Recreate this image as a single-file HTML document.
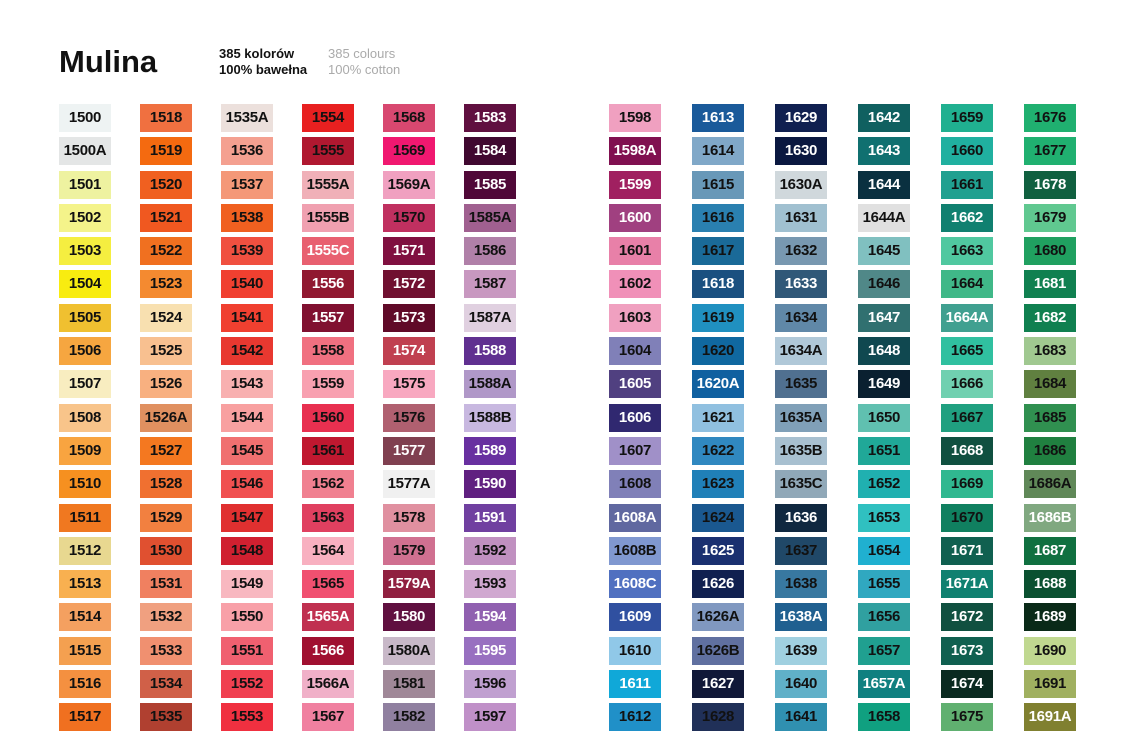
<!DOCTYPE html>
<html><head><meta charset="utf-8"><style>
body{margin:0;width:1121px;height:741px;background:#fff;position:relative;overflow:hidden;font-family:"Liberation Sans",sans-serif}
.t{position:absolute;left:59px;top:44px;font-size:31px;font-weight:bold;color:#111}
.s{position:absolute;font-size:13px;font-weight:bold;line-height:16px}
.c{position:absolute;top:104px;width:52px}
.c div{height:28px;margin-bottom:5.3px;font-size:15px;font-weight:bold;color:#111;text-align:center;line-height:28px;letter-spacing:-0.3px}
.c div.w{color:#fff}
</style></head><body>
<div class="t">Mulina</div>
<div class="s" style="left:219px;top:46px;color:#111">385 kolorów<br>100% bawełna</div>
<div class="s" style="left:328px;top:46px;color:#aaa;font-weight:normal">385 colours<br>100% cotton</div>

<div class="c" style="left:59px">
<div style="background:#eef3f3">1500</div><div style="background:#e4e6e6">1500A</div><div style="background:#eef2a0">1501</div><div style="background:#f4f38a">1502</div><div style="background:#f5ee40">1503</div><div style="background:#f8ec10">1504</div><div style="background:#f0c030">1505</div><div style="background:#f6a640">1506</div><div style="background:#f8edc0">1507</div><div style="background:#f8c48a">1508</div><div style="background:#f8a440">1509</div><div style="background:#f69020">1510</div><div style="background:#f07820">1511</div><div style="background:#e8d890">1512</div><div style="background:#f8b050">1513</div><div style="background:#f4a060">1514</div><div style="background:#f4a050">1515</div><div style="background:#f49040">1516</div><div style="background:#f07020">1517</div>
</div>
<div class="c" style="left:140px">
<div style="background:#f07040">1518</div><div style="background:#f46a10">1519</div><div style="background:#f06020">1520</div><div style="background:#f05820">1521</div><div style="background:#f07020">1522</div><div style="background:#f48a30">1523</div><div style="background:#f8e0b0">1524</div><div style="background:#f8c090">1525</div><div style="background:#f8b080">1526</div><div style="background:#e09060">1526A</div><div style="background:#f47820">1527</div><div style="background:#f07030">1528</div><div style="background:#f28040">1529</div><div style="background:#e05030">1530</div><div style="background:#f08060">1531</div><div style="background:#f0a080">1532</div><div style="background:#f09070">1533</div><div style="background:#d06048">1534</div><div style="background:#b04030">1535</div>
</div>
<div class="c" style="left:221px">
<div style="background:#ece0dc">1535A</div><div style="background:#f4a090">1536</div><div style="background:#f49878">1537</div><div style="background:#f06020">1538</div><div style="background:#f05040">1539</div><div style="background:#f04030">1540</div><div style="background:#f04030">1541</div><div style="background:#e83830">1542</div><div style="background:#f8b0b0">1543</div><div style="background:#f8a0a0">1544</div><div style="background:#f07070">1545</div><div style="background:#f05050">1546</div><div style="background:#e03030">1547</div><div style="background:#d02030">1548</div><div style="background:#f8b8c0">1549</div><div style="background:#f8a0a8">1550</div><div style="background:#f06070">1551</div><div style="background:#f04050">1552</div><div style="background:#f03040">1553</div>
</div>
<div class="c" style="left:302px">
<div style="background:#e82020">1554</div><div style="background:#b01830">1555</div><div style="background:#f0b0b8">1555A</div><div style="background:#f0a0b0">1555B</div><div class="w" style="background:#e86070">1555C</div><div class="w" style="background:#901830">1556</div><div class="w" style="background:#801030">1557</div><div style="background:#f07080">1558</div><div style="background:#f8a0b0">1559</div><div style="background:#e83050">1560</div><div style="background:#c01830">1561</div><div style="background:#f08090">1562</div><div style="background:#e04060">1563</div><div style="background:#f8b0c0">1564</div><div style="background:#f05070">1565</div><div class="w" style="background:#c03050">1565A</div><div class="w" style="background:#a01030">1566</div><div style="background:#f0b0c8">1566A</div><div style="background:#f080a0">1567</div>
</div>
<div class="c" style="left:383px">
<div style="background:#d84870">1568</div><div style="background:#f01870">1569</div><div style="background:#f0a0c0">1569A</div><div style="background:#c03060">1570</div><div class="w" style="background:#801040">1571</div><div class="w" style="background:#701030">1572</div><div class="w" style="background:#600a28">1573</div><div class="w" style="background:#c04050">1574</div><div style="background:#f8a8c0">1575</div><div style="background:#b06070">1576</div><div class="w" style="background:#804050">1577</div><div style="background:#f0f0f0">1577A</div><div style="background:#e090a0">1578</div><div style="background:#d07090">1579</div><div class="w" style="background:#902040">1579A</div><div class="w" style="background:#601040">1580</div><div style="background:#c8b8c8">1580A</div><div style="background:#a08898">1581</div><div style="background:#9080a0">1582</div>
</div>
<div class="c" style="left:464px">
<div class="w" style="background:#601040">1583</div><div class="w" style="background:#400830">1584</div><div class="w" style="background:#500838">1585</div><div style="background:#a06090">1585A</div><div style="background:#b080a8">1586</div><div style="background:#c898c0">1587</div><div style="background:#e0d0e0">1587A</div><div class="w" style="background:#603090">1588</div><div style="background:#b098c8">1588A</div><div style="background:#c8b8e0">1588B</div><div class="w" style="background:#6830a0">1589</div><div class="w" style="background:#602080">1590</div><div class="w" style="background:#7040a0">1591</div><div style="background:#c090c0">1592</div><div style="background:#d0a8d0">1593</div><div class="w" style="background:#9060b0">1594</div><div class="w" style="background:#9870c0">1595</div><div style="background:#c0a0d0">1596</div><div style="background:#c090c8">1597</div>
</div>
<div class="c" style="left:609px">
<div style="background:#f0a0c0">1598</div><div class="w" style="background:#801050">1598A</div><div class="w" style="background:#a02060">1599</div><div class="w" style="background:#a04080">1600</div><div style="background:#e880a8">1601</div><div style="background:#f090b8">1602</div><div style="background:#f0a0c0">1603</div><div style="background:#8080b8">1604</div><div class="w" style="background:#504080">1605</div><div class="w" style="background:#302870">1606</div><div style="background:#a090c8">1607</div><div style="background:#8080b8">1608</div><div class="w" style="background:#6068a0">1608A</div><div style="background:#8098d0">1608B</div><div class="w" style="background:#5070c0">1608C</div><div class="w" style="background:#3050a0">1609</div><div style="background:#90c8e8">1610</div><div class="w" style="background:#10a8d8">1611</div><div style="background:#2090c8">1612</div>
</div>
<div class="c" style="left:692px">
<div class="w" style="background:#1a5a9a">1613</div><div style="background:#80a8c8">1614</div><div style="background:#6898b8">1615</div><div style="background:#2a80b0">1616</div><div style="background:#1a6a98">1617</div><div class="w" style="background:#1a5080">1618</div><div style="background:#2090c0">1619</div><div style="background:#1068a0">1620</div><div class="w" style="background:#1060a0">1620A</div><div style="background:#90c0e0">1621</div><div style="background:#3088c0">1622</div><div style="background:#2080b8">1623</div><div style="background:#1a5890">1624</div><div class="w" style="background:#1a3070">1625</div><div class="w" style="background:#102050">1626</div><div style="background:#8098c0">1626A</div><div style="background:#6070a0">1626B</div><div class="w" style="background:#101838">1627</div><div style="background:#203058">1628</div>
</div>
<div class="c" style="left:775px">
<div class="w" style="background:#102050">1629</div><div class="w" style="background:#0a1840">1630</div><div style="background:#d0d8dc">1630A</div><div style="background:#a0c0d0">1631</div><div style="background:#7898b0">1632</div><div class="w" style="background:#305878">1633</div><div style="background:#6088a8">1634</div><div style="background:#b0c8d8">1634A</div><div style="background:#507090">1635</div><div style="background:#80a0b8">1635A</div><div style="background:#a8c0d0">1635B</div><div style="background:#90a8b8">1635C</div><div class="w" style="background:#102840">1636</div><div style="background:#204868">1637</div><div style="background:#3878a0">1638</div><div class="w" style="background:#206090">1638A</div><div style="background:#a0d0e0">1639</div><div style="background:#60b0c8">1640</div><div style="background:#3090b0">1641</div>
</div>
<div class="c" style="left:858px">
<div class="w" style="background:#106060">1642</div><div class="w" style="background:#107070">1643</div><div class="w" style="background:#0a3040">1644</div><div style="background:#e0e0e0">1644A</div><div style="background:#80c0c0">1645</div><div style="background:#508888">1646</div><div class="w" style="background:#307070">1647</div><div class="w" style="background:#104850">1648</div><div class="w" style="background:#0a2030">1649</div><div style="background:#60c0b0">1650</div><div style="background:#20a898">1651</div><div style="background:#20b0b0">1652</div><div style="background:#30c0c0">1653</div><div style="background:#20b0d0">1654</div><div style="background:#30a8c0">1655</div><div style="background:#30a0a0">1656</div><div style="background:#20a090">1657</div><div class="w" style="background:#108080">1657A</div><div style="background:#10a080">1658</div>
</div>
<div class="c" style="left:941px">
<div style="background:#20b090">1659</div><div style="background:#20b0a0">1660</div><div style="background:#20a090">1661</div><div class="w" style="background:#108070">1662</div><div style="background:#50c8a0">1663</div><div style="background:#40b888">1664</div><div class="w" style="background:#40a090">1664A</div><div style="background:#30c0a0">1665</div><div style="background:#70d0b0">1666</div><div style="background:#20a080">1667</div><div class="w" style="background:#105040">1668</div><div style="background:#30b890">1669</div><div style="background:#108060">1670</div><div class="w" style="background:#106050">1671</div><div class="w" style="background:#108070">1671A</div><div class="w" style="background:#105040">1672</div><div class="w" style="background:#106050">1673</div><div class="w" style="background:#0a2a20">1674</div><div style="background:#60b070">1675</div>
</div>
<div class="c" style="left:1024px">
<div style="background:#20b070">1676</div><div style="background:#20b070">1677</div><div class="w" style="background:#106040">1678</div><div style="background:#60c890">1679</div><div style="background:#20a060">1680</div><div class="w" style="background:#108050">1681</div><div class="w" style="background:#108050">1682</div><div style="background:#a0c890">1683</div><div style="background:#608040">1684</div><div style="background:#309050">1685</div><div style="background:#208040">1686</div><div style="background:#608858">1686A</div><div class="w" style="background:#80a880">1686B</div><div class="w" style="background:#107040">1687</div><div class="w" style="background:#0a5030">1688</div><div class="w" style="background:#0a2a18">1689</div><div style="background:#c0d890">1690</div><div style="background:#a0b060">1691</div><div class="w" style="background:#808030">1691A</div>
</div>
</body></html>
